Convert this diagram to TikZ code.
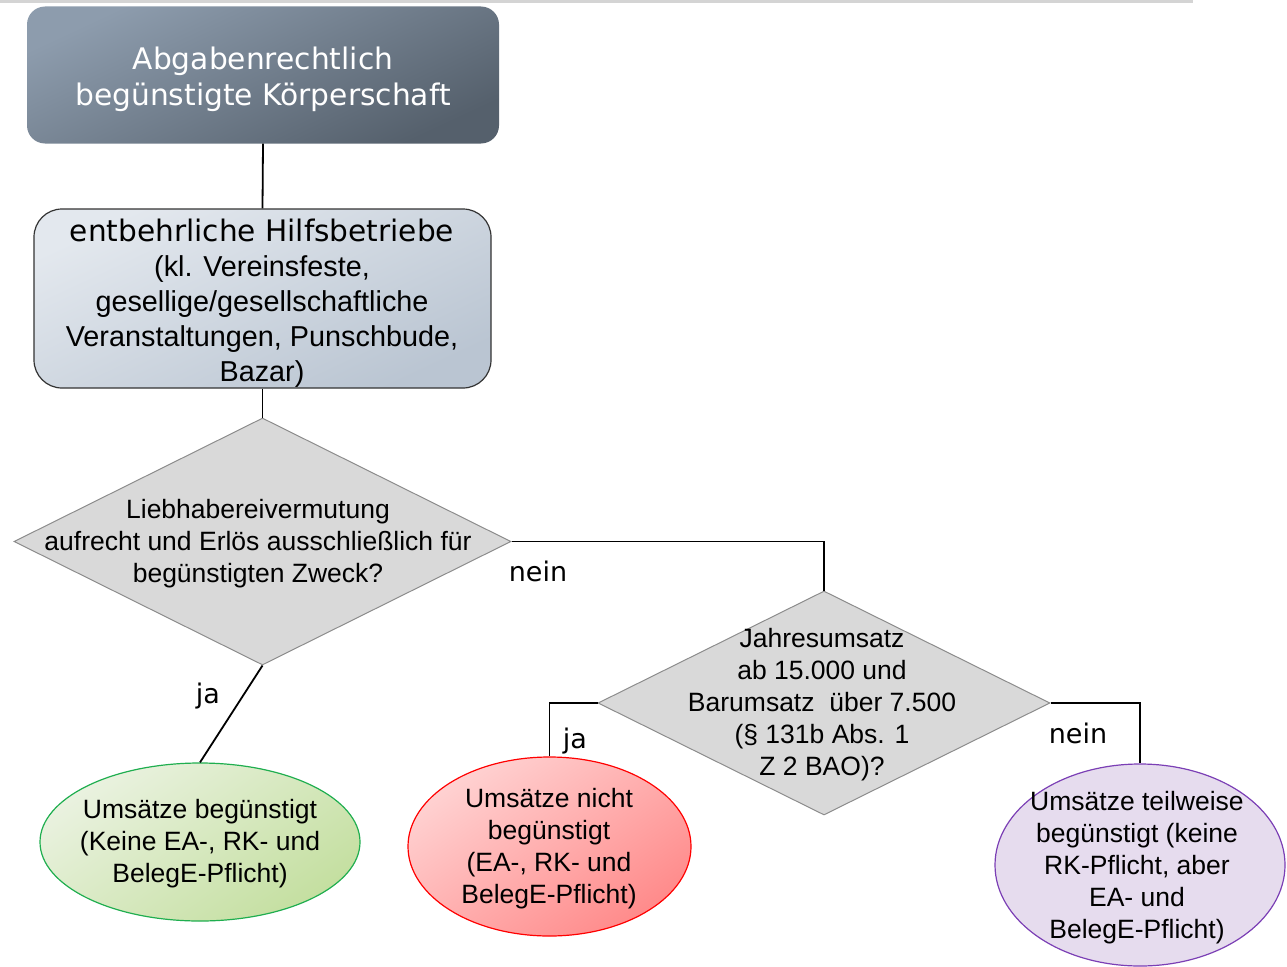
\documentclass[tikz,border=0pt]{standalone}
\usepackage{fontspec}
\setmainfont{Liberation Sans}
\newfontfamily\dvfont{DejaVu Sans}
\usetikzlibrary{shapes.geometric}
\definecolor{topA}{HTML}{8D9CAD}
\definecolor{topB}{HTML}{55606C}
\definecolor{boxA}{HTML}{E3E8EE}
\definecolor{boxB}{HTML}{BAC5D2}
\definecolor{diafill}{HTML}{D9D9D9}
\definecolor{diadraw}{HTML}{8C8C8C}
\definecolor{grA}{HTML}{EAF2E0}
\definecolor{grB}{HTML}{C4DFA0}
\definecolor{grD}{HTML}{1FAE4F}
\definecolor{rdA}{HTML}{FFD2D2}
\definecolor{rdB}{HTML}{FF8A8A}
\definecolor{rdD}{HTML}{FF0000}
\definecolor{puF}{HTML}{E6DCEE}
\definecolor{puD}{HTML}{7B3FB5}
\definecolor{rule}{HTML}{D4D4D4}
\tikzset{
  conn/.style={draw=black, line width=1.8pt},
  dia/.style={diamond, draw=diadraw, fill=diafill, line width=1pt, inner sep=0pt},
  ell/.style={ellipse, line width=1.2pt, inner sep=0pt},
  txt/.style={align=center, inner sep=0pt, font=\fontsize{26.5}{32}\selectfont},
  lab/.style={inner sep=0pt, font=\dvfont\fontsize{27}{32}\selectfont},
}
\begin{document}
\begin{tikzpicture}[x=1pt,y=-1pt]
\useasboundingbox (0,0) rectangle (1287,966);
\fill[rule] (0,0) rectangle (1193,3);
% top box
\node[rounded corners=18pt, top color=topA, bottom color=topB, shading angle=25,
      minimum width=472pt, minimum height=137pt, inner sep=0pt] (top) at (263,75) {};
\node[text=white, align=center, inner sep=0pt, font=\dvfont\fontsize{29.7}{36}\selectfont]
      (topt) at (263,79) {Abgabenrechtlich\\beg\"unstigte K\"orperschaft};
% second box
\node[rounded corners=28pt, draw=black!80, line width=1.2pt, top color=boxA, bottom color=boxB, shading angle=25,
      minimum width=457pt, minimum height=179pt, inner sep=0pt]
      (hb) at (262.5,298.5) {};
\node[align=center, inner sep=0pt, font=\fontsize{28.8}{35}\selectfont] (hbt) at (262,303)
  {{\dvfont\fontsize{29.6}{35}\selectfont entbehrliche Hilfsbetriebe}\\(kl. Vereinsfeste,\\gesellige/gesellschaftliche\\Veranstaltungen, Punschbude,\\Bazar)};
% diamond 1
\node[dia, minimum width=497pt, minimum height=247pt] (d1) at (262.5,541.5) {};
\node[txt] (d1t) at (258,544) {Liebhabereivermutung\\aufrecht und Erl\"os ausschlie\ss lich f\"ur\\beg\"unstigten Zweck?};
% diamond 2
\node[dia, minimum width=452pt, minimum height=224pt] (d2) at (824,703) {};
\node[txt] (d2t) at (822,705) {Jahresumsatz\\ab 15.000 und\\Barumsatz\ \ \"uber 7.500\\(\S\ 131b Abs. 1\\Z 2 BAO)?};
% ellipses
\node[ell, draw=grD, top color=grA, bottom color=grB, shading angle=35,
      minimum width=320pt, minimum height=158pt] (g) at (200,842) {};
\node[txt] (gt) at (200,844) {Ums\"atze beg\"unstigt\\(Keine EA-, RK- und\\BelegE-Pflicht)};
\node[ell, draw=rdD, top color=rdA, bottom color=rdB, shading angle=35,
      minimum width=283pt, minimum height=179pt] (r) at (549.5,846.5) {};
\node[txt] (rt) at (549,849) {Ums\"atze nicht\\beg\"unstigt\\(EA-, RK- und\\BelegE-Pflicht)};
\node[ell, draw=puD, fill=puF,
      minimum width=290pt, minimum height=202pt] (p) at (1140,865) {};
\node[txt] (pt) at (1137,868) {Ums\"atze teilweise\\beg\"unstigt (keine\\RK-Pflicht, aber\\EA- und\\BelegE-Pflicht)};
% connectors
\draw[conn] (top.south) -- (hb.north);
\draw[conn] (hb.south) -- (d1.north);
\draw[conn] (d1.south) -- (g.north);
\draw[conn] (d1.east) -| (d2.north);
\draw[conn] (d2.west) -| (r.north);
\draw[conn] (d2.east) -| (p.north);
% labels
\node[lab] (l1) at (208,696) {ja};
\node[lab] (l2) at (538,571) {nein};
\node[lab] (l3) at (575,741) {ja};
\node[lab] (l4) at (1078,733) {nein};
\end{tikzpicture}
\end{document}
